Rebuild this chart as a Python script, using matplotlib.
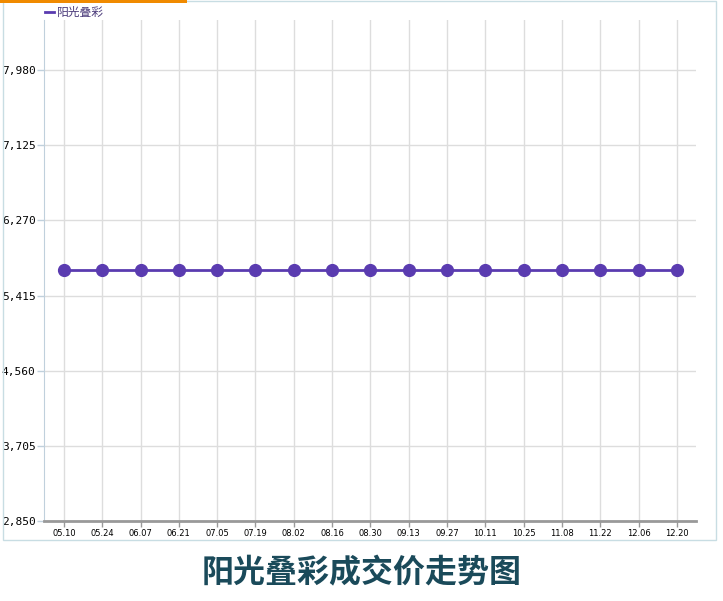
import numpy as np
import matplotlib.pyplot as plt
from matplotlib.patches import Rectangle
from matplotlib.lines import Line2D

plt.rcParams['font.family'] = ['Noto Sans CJK SC', 'DejaVu Sans']

dates = ['05.10', '05.24', '06.07', '06.21', '07.05', '07.19', '08.02', '08.16',
         '08.30', '09.13', '09.27', '10.11', '10.25', '11.08', '11.22', '12.06', '12.20']
prices = [5710, 5710, 5710, 5710, 5710, 5710, 5710, 5710,
          5710, 5710, 5710, 5710, 5710, 5710, 5710, 5710, 5710]
yticks = [2850, 3705, 4560, 5415, 6270, 7125, 7980]
series_name = '阳光叠彩'
title = '阳光叠彩成交价走势图'

W, H = 723, 601
fig = plt.figure(figsize=(W / 100, H / 100), dpi=100)

# outer frame and orange strip
fig.patches.append(Rectangle((3 / W, 1 - 540 / H), 713 / W, 539 / H, transform=fig.transFigure,
                             fill=False, edgecolor='#c8dde3', linewidth=1))
fig.patches.append(Rectangle((0, 1 - 3 / H), 187 / W, 3 / H, transform=fig.transFigure,
                             facecolor='#f08a00', edgecolor='none'))

ax = fig.add_axes([44 / W, 1 - 521 / H, (696 - 44) / W, (521 - 20) / H])
x = np.arange(len(dates))
ax.plot(x, prices, color='#5a3bb0', linewidth=2, marker='o', markersize=8.5,
        markerfacecolor='#5a3bb0', markeredgecolor='#5a3bb0', zorder=3)

ax.set_xlim(-0.52, 16.5)
ax.set_ylim(2850, 8550)
ax.set_xticks(x)
ax.set_xticklabels(dates, fontsize=6, family='DejaVu Sans')
ax.set_yticks(yticks)
ax.set_yticklabels([f'{v:,}' for v in yticks], fontsize=8, family='DejaVu Sans Mono')
ax.grid(True, color='#dddddd', linewidth=1)
ax.set_axisbelow(True)
for s in ['top', 'right']:
    ax.spines[s].set_visible(False)
ax.spines['left'].set_color('#c0d0dc')
ax.spines['bottom'].set_color('#999999')
ax.spines['bottom'].set_linewidth(2)
ax.tick_params(axis='x', length=4, color='#999999', width=1, pad=2)
ax.tick_params(axis='y', length=5, color='#c0d0dc', width=1, pad=1)

# legend
fig.lines.append(Line2D([45 / W, 54 / W], [1 - 12 / H, 1 - 12 / H], transform=fig.transFigure,
                        color='#5a3bb0', linewidth=2))
fig.text(57 / W, 1 - 12 / H, series_name, fontsize=8.5, color='#4a3a7a', va='center', ha='left')

fig.text(362 / W, 1 - 573 / H, title, fontsize=23, fontweight='bold', color='#1a4a5a',
         ha='center', va='center')

fig.savefig('out.png', dpi=100)
